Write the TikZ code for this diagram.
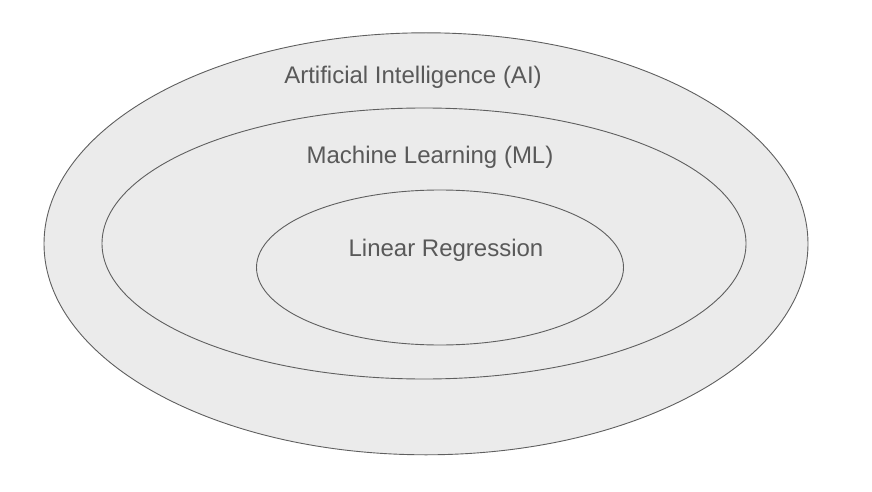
\documentclass[tikz,border=0pt]{standalone}
\usepackage{fontspec}
\setmainfont{Liberation Sans}
\usetikzlibrary{shapes.geometric}

\definecolor{zonefill}{HTML}{EBEBEB}
\definecolor{zoneline}{HTML}{5F5F5F}
\definecolor{zonetext}{HTML}{595959}

\tikzset{
  zone/.style={draw=zoneline,fill=zonefill,ellipse,inner sep=0pt,line width=0.9pt},
  zonelabel/.style={anchor=base,inner sep=0pt,text=zonetext,font=\fontsize{24}{28}\selectfont}
}

\begin{document}
\begin{tikzpicture}[x=1pt,y=-1pt]
\useasboundingbox (0,0) rectangle (872,492);
\node[zone,minimum width=764pt,minimum height=422pt] (AI) at (426,243.8) {};
\node[zone,minimum width=644pt,minimum height=271pt] (ML) at (424,243.5) {};
\node[zone,minimum width=367pt,minimum height=155pt] (LR) at (440,267.5) {};

\node[zonelabel] (AIL) at (413,83.3) {Artificial Intelligence (AI)};
\node[zonelabel] (MLL) at (430,163.3) {Machine Learning (ML)};
\node[zonelabel] (LRL) at (446,256.7) {Linear Regression};
\end{tikzpicture}
\end{document}
